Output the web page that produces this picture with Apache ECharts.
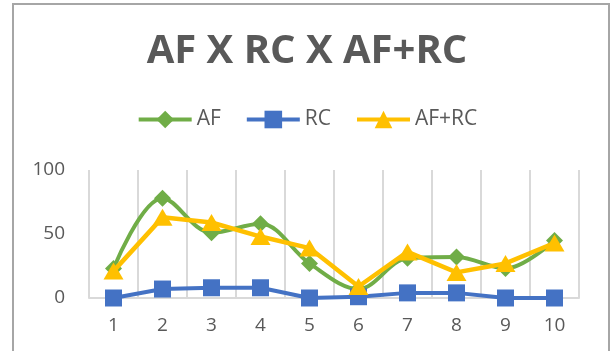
<!DOCTYPE html>
<html>
<head>
<meta charset="utf-8">
<script src="https://cdn.jsdelivr.net/npm/echarts@6/dist/echarts.min.js"></script>
<style>
  html, body { margin: 0; padding: 0; background: #fff; }
  #chart { width: 614px; height: 351px; }
</style>
</head>
<body>
<div id="chart"></div>
<script>
// Point labels along the x axis
const categories = ['1', '2', '3', '4', '5', '6', '7', '8', '9', '10'];
// Series values
const afValues = [23, 78, 51, 58, 27, 7, 31, 32, 23, 45];
const rcValues = [0, 7, 8, 8, 0, 1, 4, 4, 0, 0];
const afRcValues = [21, 63, 59, 48, 39, 9, 36, 20, 27, 43];
// Value axis range
const yMin = 0;
const yMax = 100;
const yStep = 50;

const textGray = '#595959';
const gridGray = '#d9d9d9';
const font = '"Open Sans", "Liberation Sans", sans-serif';

const chart = echarts.init(document.getElementById('chart'), null, { renderer: 'canvas' });

chart.setOption({
  backgroundColor: '#ffffff',
  animation: false,
  title: {
    text: 'AF X RC X AF+RC',
    left: 'center',
    top: 27,
    textStyle: {
      color: textGray,
      fontFamily: font,
      fontWeight: 'bold',
      fontSize: 40
    }
  },
  legend: {
    top: 104,
    left: 'center',
    itemWidth: 53,
    itemHeight: 22,
    itemGap: 24,
    lineStyle: { width: 4 },
    textStyle: { color: textGray, fontFamily: font, fontSize: 21 },
    data: ['AF', 'RC', 'AF+RC']
  },
  grid: { left: 89, right: 35, top: 170, bottom: 53, containLabel: false },
  xAxis: {
    type: 'category',
    data: categories,
    boundaryGap: true,
    axisLine: { show: true, lineStyle: { color: gridGray, width: 2 } },
    axisTick: { show: false },
    splitLine: { show: true, interval: 0, lineStyle: { color: gridGray, width: 2 } },
    axisLabel: { color: textGray, fontFamily: font, fontSize: 19, margin: 18 }
  },
  yAxis: {
    type: 'value',
    min: yMin,
    max: yMax,
    interval: yStep,
    axisLine: { show: false },
    axisTick: { show: false },
    splitLine: { show: false },
    axisLabel: { color: textGray, fontFamily: font, fontSize: 19, margin: 24 }
  },
  graphic: [{
    type: 'rect',
    shape: { x: 13, y: 4, width: 596, height: 400 },
    style: { fill: 'none', stroke: '#a6a6a6', lineWidth: 2 },
    silent: true,
    z: 100
  }],
  series: [
    {
      name: 'AF',
      type: 'line',
      data: afValues,
      smooth: 0.35,
      symbol: 'diamond',
      symbolSize: [17, 17],
      lineStyle: { color: '#70AD47', width: 4 },
      itemStyle: { color: '#70AD47' },
      z: 2
    },
    {
      name: 'RC',
      type: 'line',
      data: rcValues,
      symbol: 'rect',
      symbolSize: 17,
      lineStyle: { color: '#4472C4', width: 4 },
      itemStyle: { color: '#4472C4' },
      z: 3
    },
    {
      name: 'AF+RC',
      type: 'line',
      data: afRcValues,
      symbol: 'triangle',
      symbolSize: [20, 17],
      lineStyle: { color: '#FFC000', width: 4.5 },
      itemStyle: { color: '#FFC000' },
      z: 4
    }
  ]
});
</script>
</body>
</html>
